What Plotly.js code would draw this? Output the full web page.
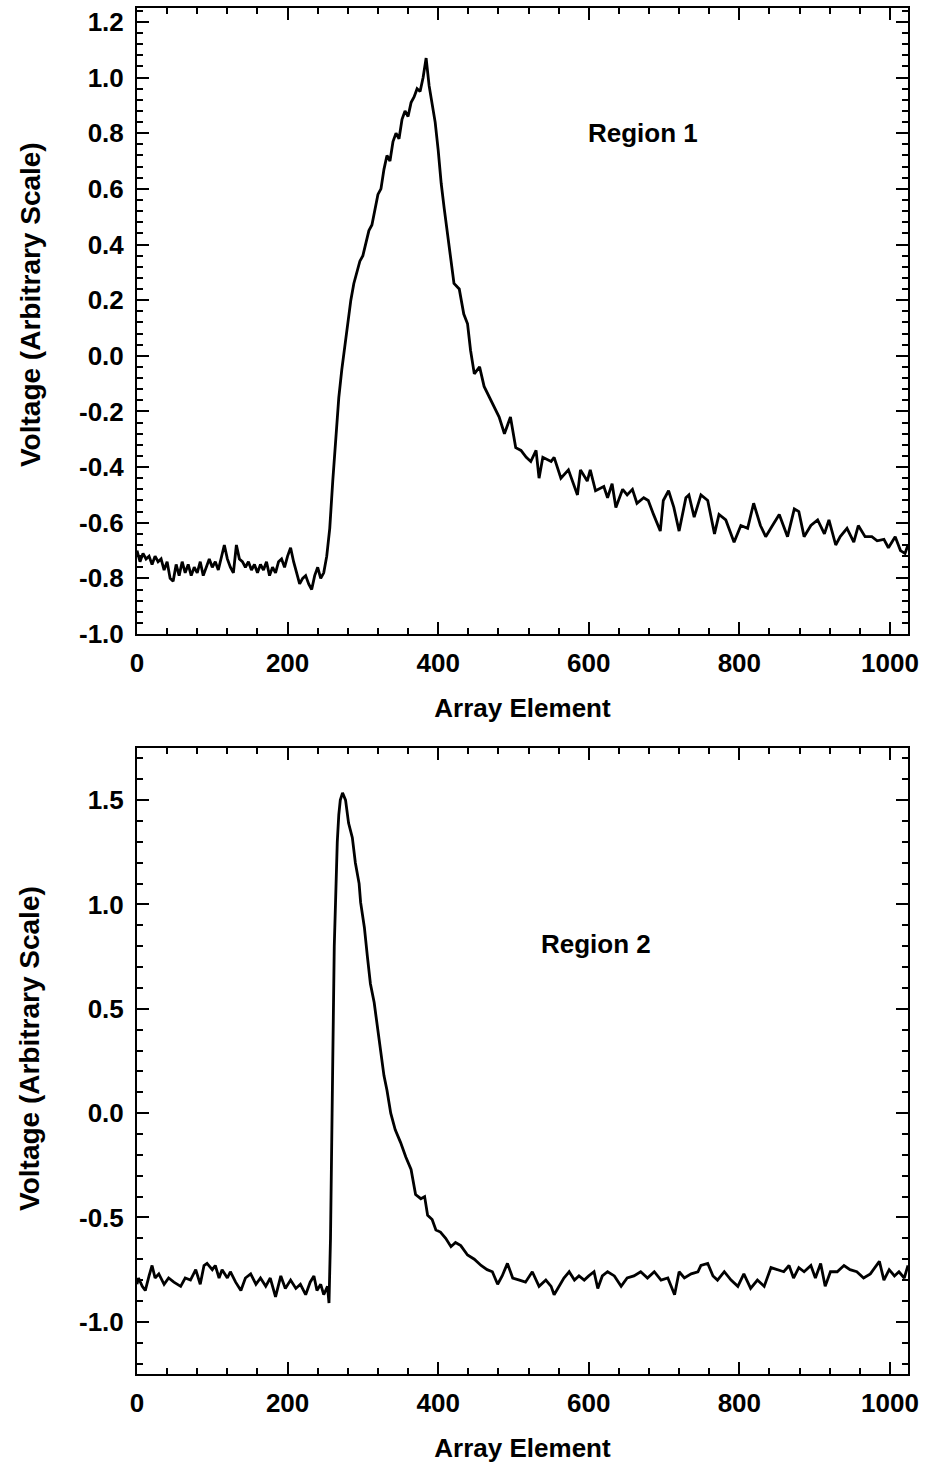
<!DOCTYPE html>
<html><head><meta charset="utf-8">
<script src="https://cdn.plot.ly/plotly-3.0.1.min.js"></script>
<style>html,body{margin:0;padding:0;background:#fff}#chart{width:926px;height:1468px}</style>
</head><body><div id="chart"></div>
<script>
// Region 1 trace (Array Element vs Voltage)
const region1X = [0,4,8,12,16,20,24,28,32,36,40,44,48,52,56,60,64,68,72,76,80,84,88,92,96,100,104,108,112,116,120,124,128,132,136,140,144,148,152,156,160,164,168,172,176,180,184,188,192,196,200,204,208,212,216,220,224,228,232,236,240,244,248,
252,256,260,264,268,272,276,280,284,288,292,296,300,304,308,312,316,320,324,328,332,336,340,344,348,352,356,360,364,368,372,376,380,384,388,392,396,400,404,408,412,416,
421,428,434,439,443,448,455,461,470,474,481,488,496,503,510,517,523,530,534,539,550,554,563,573,585,589,598,602,609,620,625,631,636,645,651,658,664,673,679,686,695,699,706,713,720,729,733,740,749,758,767,773,782,793,802,811,819,828,835,844,853,864,873,879,886,895,904,913,919,928,934,943,952,958,967,976,983,992,998,1007,1014,1020,1024];
const region1Y = [-0.70,-0.74,-0.71,-0.73,-0.72,-0.75,-0.72,-0.74,-0.73,-0.77,-0.74,-0.80,-0.81,-0.75,-0.79,-0.74,-0.78,-0.75,-0.79,-0.76,-0.78,-0.74,-0.79,-0.76,-0.73,-0.76,-0.74,-0.77,-0.72,-0.68,-0.73,-0.76,-0.78,-0.68,-0.73,-0.74,-0.76,-0.74,-0.77,-0.75,-0.78,-0.75,-0.77,-0.74,-0.79,-0.76,-0.78,-0.74,-0.73,-0.76,-0.72,-0.69,-0.74,-0.78,-0.82,-0.80,-0.79,-0.82,-0.84,-0.79,-0.76,-0.80,-0.78,
-0.72,-0.62,-0.45,-0.30,-0.15,-0.05,0.03,0.13,0.20,0.26,0.30,0.34,0.36,0.40,0.45,0.47,0.52,0.58,0.60,0.67,0.72,0.70,0.77,0.80,0.78,0.85,0.88,0.86,0.91,0.93,0.96,0.95,1.00,1.07,0.97,0.90,0.84,0.74,0.62,0.53,0.45,0.37,
0.26,0.24,0.15,0.115,0.02,-0.065,-0.04,-0.11,-0.16,-0.185,-0.22,-0.28,-0.22,-0.33,-0.34,-0.365,-0.38,-0.34,-0.44,-0.365,-0.38,-0.365,-0.44,-0.41,-0.50,-0.41,-0.45,-0.41,-0.485,-0.47,-0.51,-0.46,-0.545,-0.48,-0.50,-0.48,-0.53,-0.51,-0.52,-0.57,-0.63,-0.52,-0.485,-0.545,-0.63,-0.51,-0.50,-0.58,-0.50,-0.52,-0.64,-0.57,-0.59,-0.67,-0.61,-0.62,-0.53,-0.61,-0.65,-0.61,-0.57,-0.65,-0.55,-0.56,-0.65,-0.61,-0.59,-0.64,-0.59,-0.68,-0.65,-0.62,-0.67,-0.61,-0.65,-0.65,-0.665,-0.66,-0.69,-0.65,-0.70,-0.71,-0.68];

// Region 2 trace
const region2X = [0,2,7,11,16,20,24,29,36,42,49,58,64,71,78,84,89,93,100,104,109,113,120,124,131,138,144,151,158,164,171,177,184,191,197,204,211,217,224,230,235,239,244,248,253,255,
257,258,260,262,264,266,268,270,273,
277,281,286,290,295,297,302,306,310,315,319,324,328,332,337,343,350,357,364,370,377,382,386,392,397,403,410,417,423,
430,439,448,457,465,472,479,485,492,499,508,516,525,534,543,550,554,561,567,574,581,587,594,600,607,612,618,625,634,643,651,660,669,678,687,696,705,714,720,727,736,745,749,758,765,771,780,789,798,806,815,824,833,842,850,859,866,872,879,886,895,901,908,914,921,930,939,947,956,965,974,986,992,999,1006,1012,1019,1024];
const region2Y = [-0.82,-0.79,-0.83,-0.85,-0.78,-0.73,-0.79,-0.77,-0.82,-0.79,-0.81,-0.83,-0.79,-0.80,-0.75,-0.82,-0.73,-0.72,-0.75,-0.73,-0.79,-0.75,-0.79,-0.76,-0.81,-0.85,-0.79,-0.77,-0.82,-0.79,-0.83,-0.79,-0.88,-0.78,-0.84,-0.80,-0.84,-0.82,-0.87,-0.81,-0.78,-0.85,-0.82,-0.87,-0.83,-0.91,
-0.60,-0.20,0.25,0.80,1.10,1.30,1.43,1.50,1.535,
1.50,1.39,1.32,1.20,1.10,1.01,0.89,0.75,0.62,0.53,0.42,0.29,0.18,0.11,0.00,-0.08,-0.14,-0.21,-0.27,-0.39,-0.41,-0.40,-0.49,-0.51,-0.56,-0.57,-0.60,-0.64,-0.62,
-0.635,-0.68,-0.70,-0.73,-0.75,-0.76,-0.82,-0.78,-0.72,-0.79,-0.80,-0.81,-0.76,-0.83,-0.80,-0.83,-0.87,-0.83,-0.79,-0.76,-0.80,-0.78,-0.80,-0.78,-0.76,-0.84,-0.78,-0.76,-0.78,-0.83,-0.79,-0.78,-0.76,-0.79,-0.76,-0.80,-0.79,-0.87,-0.76,-0.79,-0.77,-0.76,-0.73,-0.72,-0.78,-0.80,-0.76,-0.80,-0.83,-0.77,-0.84,-0.80,-0.83,-0.74,-0.75,-0.76,-0.73,-0.79,-0.74,-0.76,-0.73,-0.79,-0.72,-0.83,-0.76,-0.76,-0.73,-0.75,-0.76,-0.79,-0.77,-0.71,-0.80,-0.75,-0.78,-0.76,-0.79,-0.73];

const xTickVals = [0,200,400,600,800,1000];
const xTickText = ['0','200','400','600','800','1000'];
const y1TickVals = [-1.0,-0.8,-0.6,-0.4,-0.2,0.0,0.2,0.4,0.6,0.8,1.0,1.2];
const y1TickText = ['-1.0','-0.8','-0.6','-0.4','-0.2','0.0','0.2','0.4','0.6','0.8','1.0','1.2'];
const y2TickVals = [-1.0,-0.5,0.0,0.5,1.0,1.5];
const y2TickText = ['-1.0','-0.5','0.0','0.5','1.0','1.5'];
const labels = {x: 'Array Element', y: 'Voltage (Arbitrary Scale)', r1: 'Region 1', r2: 'Region 2'};

const FONT = 'Liberation Sans, Arial, Helvetica, sans-serif';
const tickFont = {family: FONT, size: 26, color: '#000', weight: 'bold'};
const titleFont = {family: FONT, size: 26, color: '#000', weight: 'bold'};
const yTitleFont = {family: FONT, size: 28, color: '#000', weight: 'bold'};

function xAxis(anchor) {
  return {
    anchor: anchor, range: [0, 1024], tickvals: xTickVals, ticktext: xTickText,
    ticks: 'inside', ticklen: 12, tickwidth: 2, tickcolor: '#000',
    minor: {dtick: 40, tick0: 0, ticks: 'inside', ticklen: 6, tickwidth: 2, tickcolor: '#000'},
    showline: true, linewidth: 2, linecolor: '#000', mirror: 'allticks',
    showgrid: false, zeroline: false, tickfont: tickFont, ticklabelstandoff: 5,
    title: {text: labels.x, font: titleFont, standoff: 22}
  };
}
function yAxis(anchor, domain, range, vals, text, minorStep) {
  return {
    anchor: anchor, domain: domain, range: range, tickvals: vals, ticktext: text,
    ticks: 'inside', ticklen: 12, tickwidth: 2, tickcolor: '#000',
    minor: {dtick: minorStep, tick0: 0, ticks: 'inside', ticklen: 6, tickwidth: 2, tickcolor: '#000'},
    showline: true, linewidth: 2, linecolor: '#000', mirror: 'allticks',
    showgrid: false, zeroline: false, tickfont: tickFont, ticklabelstandoff: 6
  };
}

const data = [
  {x: region1X, y: region1Y, xaxis: 'x', yaxis: 'y', type: 'scatter', mode: 'lines', line: {color: '#000', width: 2.8}, showlegend: false},
  {x: region2X, y: region2Y, xaxis: 'x2', yaxis: 'y2', type: 'scatter', mode: 'lines', line: {color: '#000', width: 2.8}, showlegend: false}
];

const layout = {
  width: 926, height: 1468,
  margin: {l: 137, r: 18, t: 8, b: 94},
  paper_bgcolor: '#fff', plot_bgcolor: '#fff',
  xaxis: xAxis('y'),
  yaxis: yAxis('x', [0.5417, 1], [-1.0, 1.25], y1TickVals, y1TickText, 0.04),
  xaxis2: xAxis('y2'),
  yaxis2: yAxis('x2', [0, 0.4583], [-1.25, 1.75], y2TickVals, y2TickText, 0.1),
  annotations: [
    {text: labels.r1, x: 672, y: 0.8, xref: 'x', yref: 'y', showarrow: false, font: titleFont},
    {text: labels.r2, x: 610, y: 0.81, xref: 'x2', yref: 'y2', showarrow: false, font: titleFont},
    {text: labels.y, x: -0.1388, y: 0.7833, xref: 'paper', yref: 'paper', textangle: -90, showarrow: false, font: yTitleFont, xanchor: 'center', yanchor: 'middle'},
    {text: labels.y, x: -0.1388, y: 0.2387, xref: 'paper', yref: 'paper', textangle: -90, showarrow: false, font: yTitleFont, xanchor: 'center', yanchor: 'middle'}
  ]
};

Plotly.newPlot('chart', data, layout, {staticPlot: true, displayModeBar: false});
</script>
</body></html>
